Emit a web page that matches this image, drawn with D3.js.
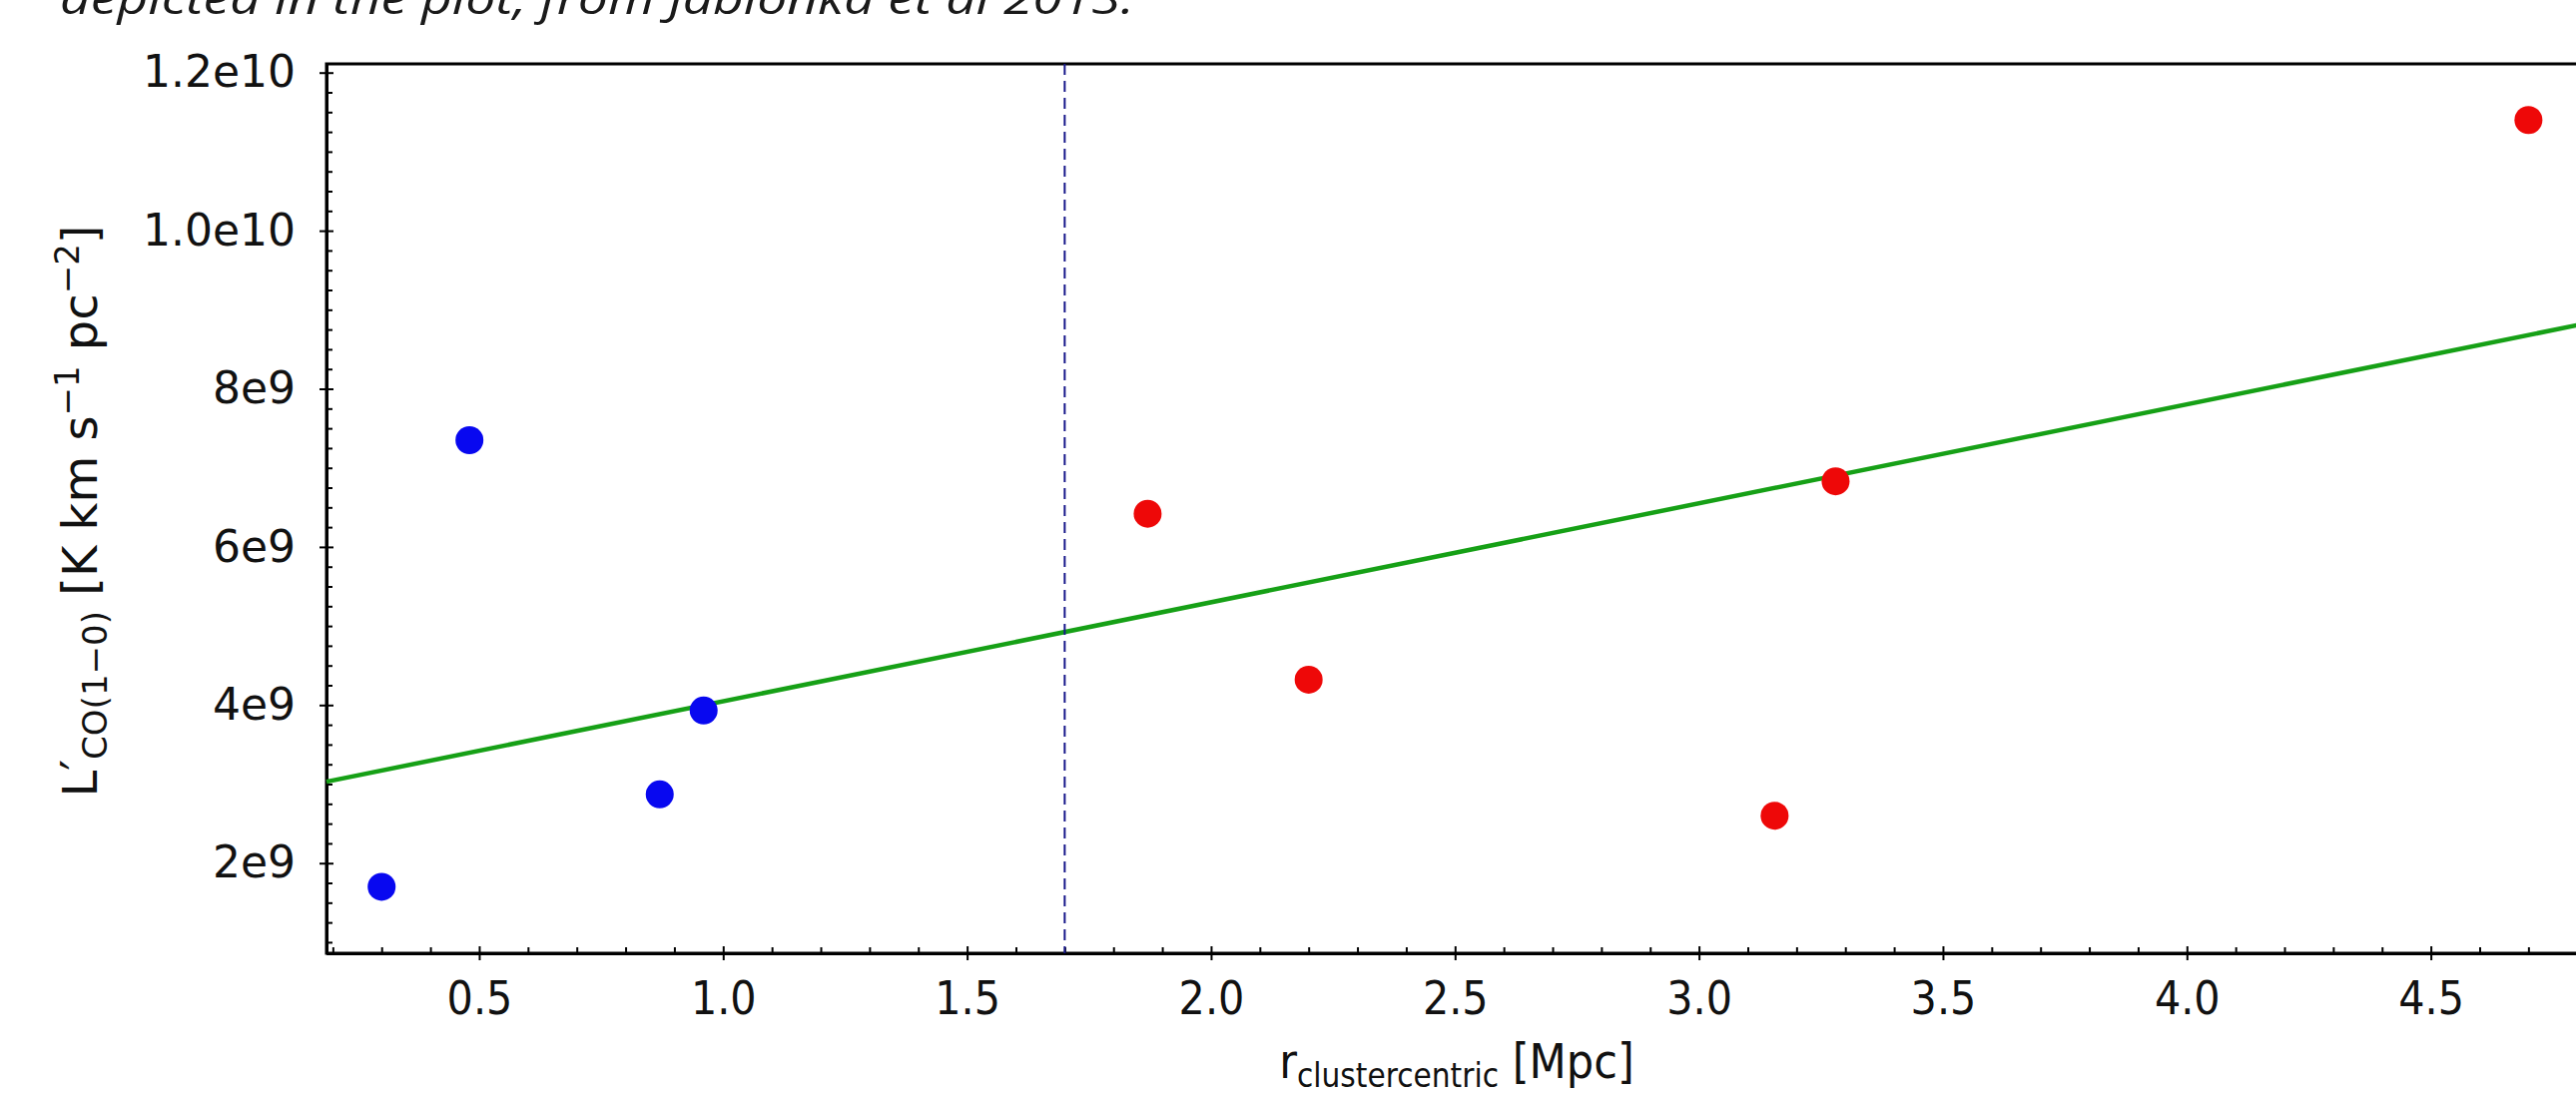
<!DOCTYPE html>
<html>
<head>
<meta charset="utf-8">
<script src="https://cdn.jsdelivr.net/npm/d3@7"></script>
<style>
  html, body { margin: 0; padding: 0; background: #ffffff; }
  svg { display: block; }
  text { font-family: "DejaVu Sans", sans-serif; fill: #111; }
</style>
</head>
<body>
<svg id="chart" width="2580" height="1097"></svg>
<script>
// ---------------- data ----------------
const innerX = [0.30, 0.48, 0.87, 0.96];           // blue points, r [Mpc]
const innerY = [1.70e9, 7.35e9, 2.87e9, 3.93e9];   // L'CO
const outerX = [1.87, 2.20, 3.155, 3.28, 4.70];    // red points
const outerY = [6.42e9, 4.32e9, 2.60e9, 6.83e9, 11.40e9];
const fitX = [0.187, 4.82];                         // green line ends
const fitY = [3.03e9, 8.83e9];
const dividerX = 1.7;                               // dashed vertical line
const xTickValues = [0.5, 1.0, 1.5, 2.0, 2.5, 3.0, 3.5, 4.0, 4.5];
const xTickLabels = ["0.5", "1.0", "1.5", "2.0", "2.5", "3.0", "3.5", "4.0", "4.5"];
const yTickValues = [2e9, 4e9, 6e9, 8e9, 1.0e10, 1.2e10];
const yTickLabels = ["2e9", "4e9", "6e9", "8e9", "1.0e10", "1.2e10"];
const xDomain = [0.187, 4.82];
const yDomain = [0.86e9, 12.11e9];

(function () {
// ---------------- layout ----------------
const mLeft = 327, mRight = 2591, mTop = 64, mBottom = 955;
const svg = d3.select("#chart");

const x = d3.scaleLinear().domain(xDomain).range([mLeft, mRight]);
const y = d3.scaleLinear().domain(yDomain).range([mBottom, mTop]);

// minor tick values
const xMinor = d3.range(2, 49).map(d => d / 10)
  .filter(v => v >= xDomain[0] && v <= xDomain[1] && Math.abs(v * 2 - Math.round(v * 2)) > 1e-6);
const yMinor = d3.range(4, 49).map(d => d * 2.5e8)
  .filter(v => v >= yDomain[0] && v <= yDomain[1] && (v % 2e9) !== 0);

// title remnant at top (cropped in the source image)
svg.append("text")
  .attr("x", 60).attr("y", 14)
  .attr("textLength", 1076).attr("lengthAdjust", "spacingAndGlyphs")
  .style("font-family", "'Open Sans', 'Liberation Sans', sans-serif")
  .style("font-style", "italic")
  .style("font-size", "44px")
  .style("fill", "#1a1a1a")
  .text("depicted in the plot, from Jablonka et al 2013.");

// frame
svg.append("rect")
  .attr("x", mLeft).attr("y", mTop)
  .attr("width", mRight - mLeft).attr("height", mBottom - mTop)
  .attr("fill", "none").attr("stroke", "#000").attr("stroke-width", 3);

// ---- X axis ----
const xAxisG = svg.append("g").attr("transform", `translate(0,${mBottom})`);
xAxisG.call(d3.axisBottom(x).tickValues(xTickValues)
  .tickFormat((d, i) => xTickLabels[i]).tickSize(7).tickSizeOuter(0).tickPadding(21));
const xInG = svg.append("g").attr("transform", `translate(0,${mBottom})`);
xInG.call(d3.axisBottom(x).tickValues(xTickValues).tickFormat("").tickSize(-7).tickSizeOuter(0));
const xMinG = svg.append("g").attr("transform", `translate(0,${mBottom})`);
xMinG.call(d3.axisBottom(x).tickValues(xMinor).tickFormat("").tickSize(-6).tickSizeOuter(0));

// ---- Y axis ----
const yAxisG = svg.append("g").attr("transform", `translate(${mLeft},0)`);
yAxisG.call(d3.axisLeft(y).tickValues(yTickValues)
  .tickFormat((d, i) => yTickLabels[i]).tickSize(7).tickSizeOuter(0).tickPadding(24));
const yInG = svg.append("g").attr("transform", `translate(${mLeft},0)`);
yInG.call(d3.axisLeft(y).tickValues(yTickValues).tickFormat("").tickSize(-7).tickSizeOuter(0));
const yMinG = svg.append("g").attr("transform", `translate(${mLeft},0)`);
yMinG.call(d3.axisLeft(y).tickValues(yMinor).tickFormat("").tickSize(-6).tickSizeOuter(0));

[xAxisG, xInG, xMinG, yAxisG, yInG, yMinG].forEach(g => {
  g.select(".domain").attr("stroke", "#000").attr("stroke-width", 3);
  g.selectAll(".tick line").attr("stroke", "#000").attr("stroke-width", 2);
  g.selectAll(".tick text").style("font-family", "'DejaVu Sans', sans-serif").attr("fill", "#111");
});
yAxisG.selectAll(".tick text").style("font-size", "44px");
xAxisG.selectAll(".tick text").style("font-size", "47px").attr("transform", "scale(0.88,1)");

// ---- green fit line ----
svg.append("path")
  .datum(fitX.map((v, i) => [v, fitY[i]]))
  .attr("d", d3.line().x(d => x(d[0])).y(d => y(d[1])))
  .attr("fill", "none").attr("stroke", "#16a016").attr("stroke-width", 4.5);

// ---- dashed divider ----
svg.append("line")
  .attr("x1", x(dividerX)).attr("x2", x(dividerX))
  .attr("y1", y(yDomain[1])).attr("y2", y(yDomain[0]))
  .attr("stroke", "#17178a").attr("stroke-width", 2)
  .attr("stroke-dasharray", "11,6");

// ---- points ----
svg.append("g").selectAll("circle")
  .data(innerX.map((v, i) => [v, innerY[i]]))
  .join("circle")
  .attr("cx", d => x(d[0])).attr("cy", d => y(d[1])).attr("r", 14)
  .attr("fill", "#0808f0");
svg.append("g").selectAll("circle")
  .data(outerX.map((v, i) => [v, outerY[i]]))
  .join("circle")
  .attr("cx", d => x(d[0])).attr("cy", d => y(d[1])).attr("r", 14)
  .attr("fill", "#ee0808");

// ---- axis labels ----
const xl = svg.append("text")
  .attr("transform", `translate(${(mLeft + mRight) / 2},1080) scale(0.9,1)`)
  .attr("text-anchor", "middle")
  .style("font-size", "48px");
xl.append("tspan").text("r");
xl.append("tspan").attr("dy", 9).style("font-size", "33px").text("clustercentric");
xl.append("tspan").attr("dy", -9).text(" [Mpc]");

const yl = svg.append("text")
  .attr("transform", `translate(97,512) rotate(-90)`)
  .attr("text-anchor", "middle")
  .style("font-size", "48px");
yl.append("tspan").text("L");
yl.append("tspan").attr("dy", -2).text("′");
yl.append("tspan").attr("dy", 12).style("font-size", "34px").text("CO(1−0)");
yl.append("tspan").attr("dy", -10).text(" [K km s");
yl.append("tspan").attr("dy", -18).style("font-size", "34px").text("−1");
yl.append("tspan").attr("dy", 18).text(" pc");
yl.append("tspan").attr("dy", -18).style("font-size", "34px").text("−2");
yl.append("tspan").attr("dy", 18).text("]");
})();
</script>
</body>
</html>
